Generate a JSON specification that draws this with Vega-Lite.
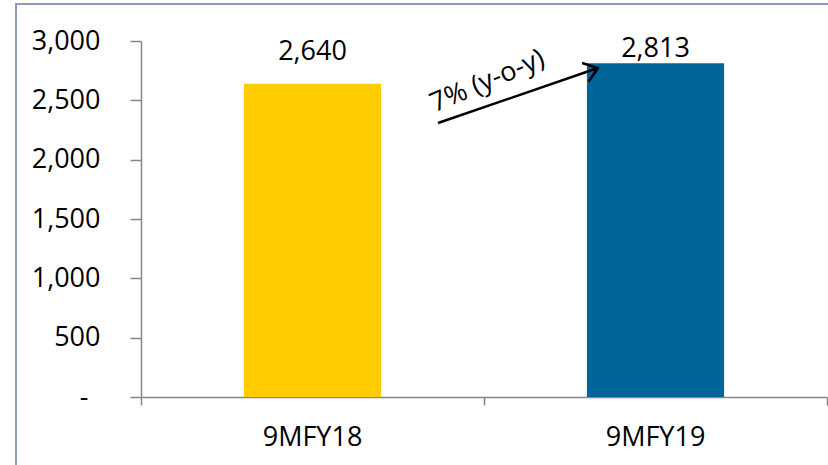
{
  "$schema": "https://vega.github.io/schema/vega-lite/v6.json",
  "width": 814,
  "height": 464,
  "autosize": {"type": "none"},
  "padding": {"left": 16, "top": 4, "right": 0, "bottom": 0},
  "background": "white",
  "config": {
    "view": {"stroke": "#8A9CBA", "strokeWidth": 2},
    "font": "Open Sans",
    "text": {"font": "Open Sans"}
  },
  "layer": [
    {
      "data": {"values": [{"period": "9MFY18", "value": 2640}, {"period": "9MFY19", "value": 2813}]},
      "layer": [
        {
          "mark": {"type": "bar"},
          "encoding": {
            "x": {
              "field": "period", "type": "nominal",
              "scale": {"range": [125, 811], "paddingInner": 0.6, "paddingOuter": 0.3},
              "axis": {"orient": "bottom", "offset": -71, "title": null, "ticks": false, "domain": true, "domainColor": "#868686", "domainWidth": 1.5, "labelAngle": 0, "labelFontSize": 27, "labelColor": "#000000", "labelPadding": 27, "labelFont": "Open Sans"}
            },
            "y": {
              "field": "value", "type": "quantitative",
              "scale": {"domain": [0, 3000], "range": [393, 37], "nice": false, "zero": true},
              "axis": {"orient": "left", "offset": -125, "title": null, "grid": false, "values": [0, 500, 1000, 1500, 2000, 2500, 3000], "tickSize": 11, "tickColor": "#868686", "tickWidth": 1.5, "domainColor": "#868686", "domainWidth": 1.5, "labelPadding": {"condition": {"test": "datum.value == 0", "value": 42}, "value": 30}, "labelFontSize": 27, "labelColor": "#000000", "labelFont": "Open Sans", "labelExpr": "datum.value == 0 ? '-' : format(datum.value, ',')"}
            },
            "color": {"field": "period", "type": "nominal", "scale": {"range": ["#FFCC00", "#006699"]}, "legend": null}
          }
        },
        {
          "transform": [{"filter": "datum.period == '9MFY18'"}],
          "mark": {"type": "text", "fontSize": 27, "baseline": "middle", "align": "center", "dy": -32, "color": "#000000"},
          "encoding": {
            "x": {"field": "period", "type": "nominal"},
            "y": {"field": "value", "type": "quantitative"},
            "text": {"field": "value", "type": "quantitative", "format": ","}
          }
        },
        {
          "transform": [{"filter": "datum.period == '9MFY19'"}],
          "mark": {"type": "text", "fontSize": 27, "baseline": "middle", "align": "center", "dy": -14, "color": "#000000"},
          "encoding": {
            "x": {"field": "period", "type": "nominal"},
            "y": {"field": "value", "type": "quantitative"},
            "text": {"field": "value", "type": "quantitative", "format": ","}
          }
        }
      ]
    },
    {
      "data": {"values": [{"x": 0.866, "y": 2309, "x2": 1.332, "y2": 2772, "label": "7% (y-o-y)", "lx": 1.01, "ly": 2660}]},
      "layer": [
        {
          "mark": {"type": "rule", "strokeWidth": 2.5, "color": "#000000"},
          "encoding": {
            "x": {
              "field": "x", "type": "quantitative",
              "scale": {"domain": [0, 2], "range": [125, 811], "nice": false, "zero": false},
              "axis": {"orient": "bottom", "offset": -71, "values": [0, 1, 2], "labels": false, "domain": false, "grid": false, "title": null, "tickSize": 8, "tickColor": "#868686", "tickWidth": 1.5}
            },
            "x2": {"field": "x2"},
            "y": {"field": "y", "type": "quantitative", "scale": {"domain": [0, 3000], "range": [393, 37], "nice": false, "zero": true}},
            "y2": {"field": "y2"}
          }
        },
        {
          "mark": {"type": "point", "shape": "M-1,-0.75L0,0L-1,0.75", "filled": false, "stroke": "#000000", "strokeWidth": 2.5, "size": 700, "angle": -19, "opacity": 1},
          "encoding": {
            "x": {"field": "x2", "type": "quantitative"},
            "y": {"field": "y2", "type": "quantitative"}
          }
        },
        {
          "mark": {"type": "text", "fontSize": 27, "angle": -23, "align": "center", "baseline": "middle", "color": "#000000"},
          "encoding": {
            "x": {"field": "lx", "type": "quantitative"},
            "y": {"field": "ly", "type": "quantitative"},
            "text": {"field": "label", "type": "nominal"}
          }
        }
      ]
    }
  ],
  "resolve": {"scale": {"x": "independent", "color": "independent"}}
}
